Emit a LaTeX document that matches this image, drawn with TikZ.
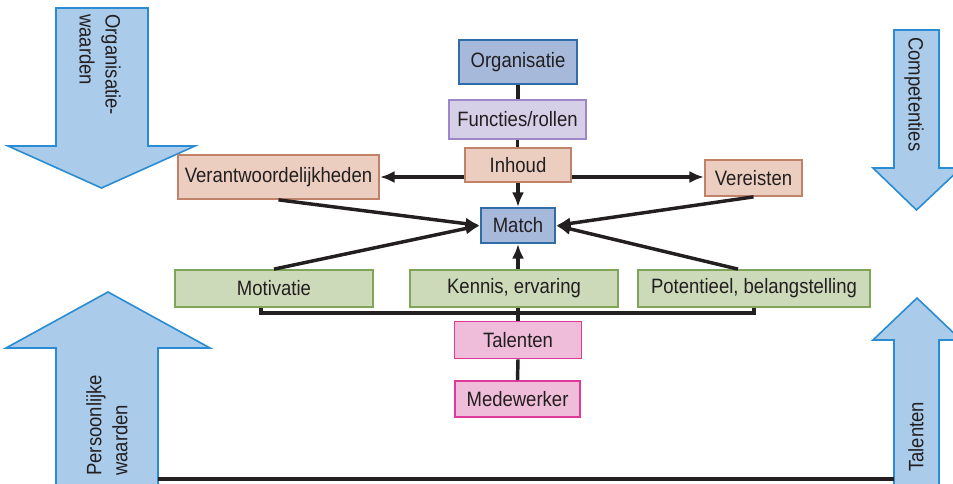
\documentclass[tikz,border=0pt]{standalone}
\usepackage{fontspec}
\setmainfont{Liberation Sans}[FakeStretch=0.89]
\usetikzlibrary{arrows.meta,calc}

\definecolor{bigfill}{HTML}{AACBEA}
\definecolor{bigline}{HTML}{2A8CD2}
\definecolor{orgfill}{HTML}{A7B9DB}
\definecolor{orgline}{HTML}{2F6CA8}
\definecolor{funfill}{HTML}{D6CFE8}
\definecolor{funline}{HTML}{9C87C8}
\definecolor{inhfill}{HTML}{EBCEC0}
\definecolor{inhline}{HTML}{C08268}
\definecolor{grnfill}{HTML}{CCDAB9}
\definecolor{grnline}{HTML}{7FA656}
\definecolor{pnkfill}{HTML}{EFBCDA}
\definecolor{pnkline}{HTML}{DE3A9C}
\definecolor{ink}{HTML}{231F20}

\def\px{0.75pt}

\begin{document}
\begin{tikzpicture}[x=0.75pt,y=-0.75pt,>={Latex[length=11pt,width=9pt]},
	font=\fontsize{15.6}{19.5}\selectfont]
	
	% ------------------------------------------------------------
	% Styles
	% ------------------------------------------------------------
	\tikzset{
		box/.style={draw,line width=1.3pt,inner sep=0pt,text=ink},
		orgbox/.style={box,draw=orgline,fill=orgfill},
		funbox/.style={box,draw=funline,fill=funfill},
		inhbox/.style={box,draw=inhline,fill=inhfill},
		grnbox/.style={box,draw=grnline,fill=grnfill},
		pnkbox/.style={box,draw=pnkline,fill=pnkfill},
		link/.style={line width=2.6pt,draw=ink},
		flow/.style={link,->},
		bigarrow/.style={draw=bigline,fill=bigfill,line width=1.2pt},
		bigtext/.style={text=ink,inner sep=0pt,align=left}
	}
	
	\useasboundingbox (0,0) rectangle (953,484);
	
	% ============================================================
	% Big arrows at the four corners
	% ============================================================
	% Organisatiewaarden (down)
	\draw[bigarrow] (56,8) -- (148,8) -- (148,146) -- (195,146) -- (101.5,188)
	-- (8,146) -- (56,146) -- cycle;
	\node[bigtext,rotate=-90,anchor=west] (orgw) at (100,14) {Organisatie-\\waarden};
	
	% Competenties (down)
	\draw[bigarrow] (894,30) -- (939,30) -- (939,168) -- (961,168) -- (916.5,210)
	-- (873,168) -- (894,168) -- cycle;
	\node[bigtext,rotate=-90,anchor=west] (comp) at (914,37) {Competenties};
	
	% Persoonlijke waarden (up)
	\draw[bigarrow] (56,490) -- (56,348) -- (6,348) -- (108,292) -- (210,348)
	-- (158,348) -- (158,490);
	\node[bigtext,rotate=90,anchor=west] (pers) at (107,476) {Persoonlijke\\waarden};
	
	% Talenten (up)
	\draw[bigarrow] (894,490) -- (894,340) -- (873,340) -- (917,298) -- (961,340)
	-- (939,340) -- (939,490);
	\node[bigtext,rotate=90,anchor=west] (tal) at (916,472) {Talenten};
	
	% Base line between the two lower arrows
	\coordinate (persBase) at (158,479);
	\coordinate (talBase) at (894,479);
	\draw[link] (persBase) -- (talBase);
	
	% ============================================================
	% Boxes
	% ============================================================
	\node[orgbox,minimum width=118*\px,minimum height=44*\px] (organisatie) at (518,62) {Organisatie};
	\node[funbox,minimum width=137*\px,minimum height=39*\px] (functies) at (517.5,119.5) {Functies/rollen};
	\node[inhbox,minimum width=106*\px,minimum height=34*\px] (inhoud) at (518,165) {Inhoud};
	\node[inhbox,minimum width=201*\px,minimum height=44*\px] (verant) at (278.5,177) {Verantwoordelijkheden};
	\node[inhbox,minimum width=97*\px,minimum height=36*\px] (vereisten) at (753.5,178) {Vereisten};
	\node[orgbox,minimum width=74*\px,minimum height=35*\px] (match) at (518,225.5) {Match};
	
	\node[grnbox,minimum width=198*\px,minimum height=37*\px] (motivatie) at (274,288.5) {Motivatie};
	\node[grnbox,minimum width=208*\px,minimum height=37*\px] (kennis) at (514,288.5) {Kennis, ervaring};
	\node[grnbox,minimum width=232*\px,minimum height=37*\px] (potentieel) at (754,288.5) {Potentieel, belangstelling};
	
	\node[pnkbox,minimum width=127*\px,minimum height=37*\px] (talenten) at (518,340) {Talenten};
	\node[pnkbox,minimum width=125*\px,minimum height=36*\px] (medewerker) at (517.5,399) {Medewerker};
	
	% ============================================================
	% Connectors
	% ============================================================
	\draw[link] (organisatie.south) -- (organisatie.south |- functies.north);
	\draw[link] (functies.south) -- (functies.south |- inhoud.north);
	\draw[flow] (inhoud.south) -- (match.north);
	\draw[flow] (inhoud.west |- verant.east) -- (verant.east);
	\draw[flow] (inhoud.east |- verant.east) -- (vereisten.west |- verant.east);
	
	\draw[flow] (verant.south) -- (match.west);
	\draw[flow] (motivatie.north) -- (match.west);
	\draw[flow] (vereisten.south) -- (match.east);
	\draw[flow] ($(potentieel.north)+(-16,0)$) -- (match.east);
	\draw[flow] (match.south |- kennis.north) -- (match.south);
	
	% Talenten feed the three green boxes
	\draw[link] ($(motivatie.south)+(-13,0)$) -- ++(0,5) -| (potentieel.south);
	\draw[link] (talenten.north) -- (talenten.north |- kennis.south);
	\draw[link] (medewerker.north) -- (talenten.south);
	
\end{tikzpicture}
\end{document}
